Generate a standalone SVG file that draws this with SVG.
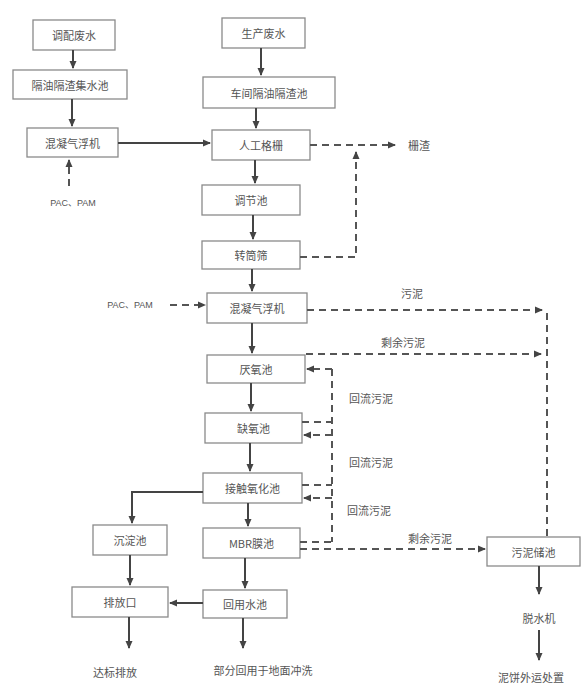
<svg xmlns="http://www.w3.org/2000/svg" width="583" height="685" viewBox="0 0 583 685">
<style>
.box{fill:#fff;stroke:#8a8a8a;stroke-width:1.3}
.t{font-family:"Noto Sans CJK SC","Liberation Sans",sans-serif;font-size:11px;fill:#555;text-anchor:middle;dominant-baseline:central}
.s{font-family:"Liberation Sans","Noto Sans CJK SC",sans-serif;font-size:9px;fill:#555;text-anchor:middle;dominant-baseline:central}
.ln{fill:none;stroke:#444;stroke-width:2}
.dl{fill:none;stroke:#555;stroke-width:2;stroke-dasharray:7 5}
</style>
<defs>
<marker id="a" markerUnits="userSpaceOnUse" markerWidth="8" markerHeight="8" refX="7" refY="4" orient="auto"><path d="M0,0.5 L8,4 L0,7.5 z" fill="#444"/></marker>
</defs>
<rect width="583" height="685" fill="#fff"/>
<g id="n1"><rect class="box" x="33" y="20" width="82" height="30"/><text class="t" x="74" y="35">调配废水</text></g>
<g id="n2"><rect class="box" x="13" y="70" width="114" height="29"/><text class="t" x="70" y="84.5">隔油隔渣集水池</text></g>
<g id="n3"><rect class="box" x="27" y="128" width="91" height="29"/><text class="t" x="72.5" y="142.5">混凝气浮机</text></g>
<g id="n4"><rect class="box" x="222" y="18" width="83" height="30"/><text class="t" x="263.5" y="33">生产废水</text></g>
<g id="n5"><rect class="box" x="203" y="77" width="132" height="31"/><text class="t" x="269" y="92.5">车间隔油隔渣池</text></g>
<g id="n6"><rect class="box" x="212" y="130" width="98" height="30"/><text class="t" x="261" y="145">人工格栅</text></g>
<g id="n7"><rect class="box" x="202" y="185" width="98" height="30"/><text class="t" x="251" y="200">调节池</text></g>
<g id="n8"><rect class="box" x="202" y="241" width="98" height="28"/><text class="t" x="251" y="255">转筒筛</text></g>
<g id="n9"><rect class="box" x="207" y="293" width="100" height="30"/><text class="t" x="257" y="308">混凝气浮机</text></g>
<g id="n10"><rect class="box" x="207" y="355" width="98" height="28"/><text class="t" x="256" y="369">厌氧池</text></g>
<g id="n11"><rect class="box" x="205" y="413" width="97" height="30"/><text class="t" x="253.5" y="428">缺氧池</text></g>
<g id="n12"><rect class="box" x="203" y="473" width="99" height="30"/><text class="t" x="252.5" y="488">接触氧化池</text></g>
<g id="n13"><rect class="box" x="203" y="528" width="97" height="30"/><text class="t" x="251.5" y="543">MBR膜池</text></g>
<g id="n14"><rect class="box" x="93" y="525" width="74" height="30"/><text class="t" x="130" y="540">沉淀池</text></g>
<g id="n15"><rect class="box" x="72" y="587" width="96" height="30"/><text class="t" x="120" y="602">排放口</text></g>
<g id="n16"><rect class="box" x="203" y="590" width="84" height="28"/><text class="t" x="245" y="604">回用水池</text></g>
<g id="n17"><rect class="box" x="487" y="537" width="93" height="29"/><text class="t" x="533.5" y="551.5">污泥储池</text></g>
<g id="connectors">
<path class="ln" d="M73,50 V68" marker-end="url(#a)"/>
<path class="ln" d="M72,99 V126" marker-end="url(#a)"/>
<path class="ln" d="M118,143 H210" marker-end="url(#a)"/>
<path class="dl" d="M69,186 V160" marker-end="url(#a)"/>
<path class="ln" d="M261,48 V75" marker-end="url(#a)"/>
<path class="ln" d="M256,108 V128" marker-end="url(#a)"/>
<path class="dl" d="M310,145 H395" marker-end="url(#a)"/>
<path class="dl" d="M300,257 H356 V152" marker-end="url(#a)"/>
<path class="ln" d="M255,160 V183" marker-end="url(#a)"/>
<path class="ln" d="M253,215 V239" marker-end="url(#a)"/>
<path class="ln" d="M252,269 V291" marker-end="url(#a)"/>
<path class="dl" d="M170,305 H205" marker-end="url(#a)"/>
<path class="dl" d="M307,310 H542" marker-end="url(#a)"/>
<path class="dl" d="M547,313 V537"/>
<path class="dl" d="M306,354 H541" marker-end="url(#a)"/>
<path class="ln" d="M252,323 V353" marker-end="url(#a)"/>
<path class="ln" d="M251,383 V411" marker-end="url(#a)"/>
<path class="ln" d="M250,443 V471" marker-end="url(#a)"/>
<path class="ln" d="M248,503 V526" marker-end="url(#a)"/>
<path class="ln" d="M203,492 H132 V523" marker-end="url(#a)"/>
<path class="ln" d="M130,555 V585" marker-end="url(#a)"/>
<path class="ln" d="M245,558 V588" marker-end="url(#a)"/>
<path class="ln" d="M203,603 H170" marker-end="url(#a)"/>
<path class="ln" d="M129,617 V648" marker-end="url(#a)"/>
<path class="ln" d="M243,618 V648" marker-end="url(#a)"/>
<path class="ln" d="M539,566 V594" marker-end="url(#a)"/>
<path class="ln" d="M539,630 V660" marker-end="url(#a)"/>
<path class="dl" d="M332,369 V542"/>
<path class="dl" d="M332,369 H307" marker-end="url(#a)"/>
<path class="dl" d="M302,422 H332"/>
<path class="dl" d="M332,435 H304" marker-end="url(#a)"/>
<path class="dl" d="M302,485 H332"/>
<path class="dl" d="M332,498 H304" marker-end="url(#a)"/>
<path class="dl" d="M300,542 H332"/>
<path class="dl" d="M300,549 H485" marker-end="url(#a)"/>
</g>
<text class="t" x="419" y="145">栅渣</text>
<text class="s" x="73" y="203">PAC、PAM</text>
<text class="s" x="130" y="305">PAC、PAM</text>
<text class="t" x="412" y="293">污泥</text>
<text class="t" x="403" y="342">剩余污泥</text>
<text class="t" x="371" y="398">回流污泥</text>
<text class="t" x="371" y="462">回流污泥</text>
<text class="t" x="369" y="510">回流污泥</text>
<text class="t" x="430" y="538">剩余污泥</text>
<text class="t" x="539" y="618">脱水机</text>
<text class="t" x="531" y="677">泥饼外运处置</text>
<text class="t" x="115" y="672">达标排放</text>
<text class="t" x="263" y="670">部分回用于地面冲洗</text>
</svg>
